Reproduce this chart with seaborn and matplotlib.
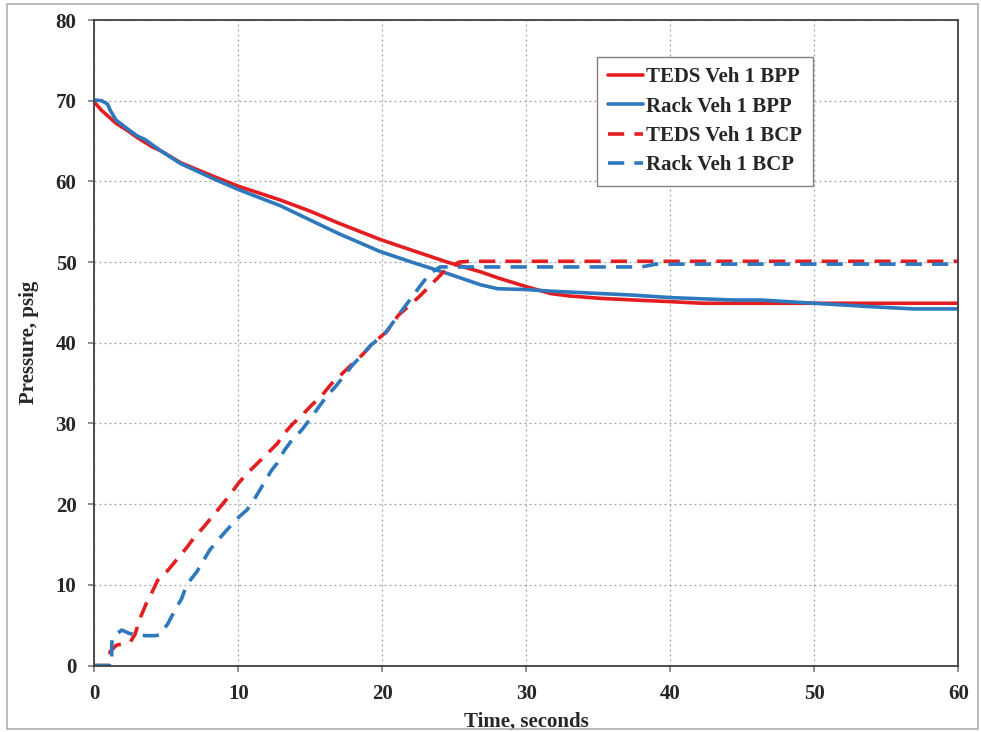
import matplotlib
matplotlib.use("Agg")
import matplotlib.pyplot as plt
import numpy as np
import pandas as pd
import seaborn as sns

# Brake pipe pressure (solid lines)
teds_bpp_t = [0, 0.5, 1, 1.5, 2.3, 3, 4, 4.6, 6, 8.3, 10, 12.9, 15, 17, 19.85, 22,
              24.5, 26.8, 28.1, 30.1, 31.7, 33, 35.2, 37.5, 40, 42.2, 50, 60]
teds_bpp_p = [69.8, 68.8, 68.0, 67.2, 66.3, 65.4, 64.3, 63.8, 62.3, 60.6, 59.4, 57.7, 56.3, 54.8,
              52.8, 51.5, 50.0, 48.8, 48.0, 46.9, 46.1, 45.8, 45.5, 45.3, 45.1, 44.9, 44.9, 44.9]

rack_bpp_t = [0, 0.5, 0.9, 1.1, 1.5, 2.3, 3, 3.5, 4.6, 6, 8.3, 10, 11, 12.9, 15, 17, 19.85,
              22.2, 24.5, 26.8, 28, 30, 31.7, 35.2, 37.5, 40, 44.4, 46.3, 50, 53.7, 56.9, 60]
rack_bpp_p = [70.1, 70.0, 69.6, 68.8, 67.6, 66.5, 65.6, 65.2, 63.8, 62.2, 60.3, 59.0, 58.3, 57.0,
              55.2, 53.5, 51.3, 49.9, 48.6, 47.2, 46.7, 46.6, 46.4, 46.1, 45.9, 45.6, 45.3, 45.3,
              44.9, 44.5, 44.2, 44.2]

# Brake cylinder pressure (dashed lines)
teds_bcp_t = [0, 1.05, 1.08, 1.5, 2.5, 2.8, 3.2, 3.6, 4.0, 4.4, 5.1, 5.7, 6.4, 6.9, 7.6, 8.15,
              8.85, 9.3, 10.0, 10.6, 12.7, 13.1, 13.8, 14.4, 15.1, 15.8, 16.5, 17.1, 17.8, 18.6,
              19.2, 20.3, 21.1, 21.8, 22.6, 24.2, 25.3, 26, 60]
teds_bcp_p = [0, 0, 1.7, 2.5, 2.95, 3.8, 6.0, 7.7, 9.1, 10.6, 11.8, 13.1, 14.6, 15.8, 17.2, 18.4,
              19.9, 20.9, 22.6, 23.8, 27.5, 28.6, 30.0, 31.0, 32.3, 33.5, 35.0, 36.0, 37.2, 38.5,
              39.7, 41.4, 43.4, 44.5, 45.8, 48.7, 50.0, 50.1, 50.1]

rack_bcp_t = [0, 1.2, 1.2, 1.3, 1.9, 2.4, 2.8, 3.6, 4.2, 4.55, 5.1, 5.6, 6.06, 6.4, 7.1, 7.6,
              8.0, 8.6, 9.3, 9.9, 10.6, 11.2, 11.7, 12.3, 12.7, 13.2, 13.7, 14.4, 15.0, 15.6,
              16.1, 16.7, 17.3, 17.9, 18.6, 19.2, 20.2, 21.1, 21.9, 22.6, 23.3, 24.0, 38, 39, 60]
rack_bcp_p = [0, 0, 2.75, 3.6, 4.4, 4.0, 3.8, 3.7, 3.7, 3.8, 5.2, 6.9, 8.3, 10.0, 11.6, 13.1,
              14.3, 15.6, 17.0, 18.2, 19.3, 20.9, 22.4, 24.2, 25.1, 26.7, 27.9, 29.2, 30.6, 32.1,
              33.3, 34.5, 35.8, 37.2, 38.5, 39.7, 41.2, 43.4, 45.3, 47.0, 48.6, 49.4, 49.4, 49.75,
              49.75]

red = "#E41E20"
blue = "#2E78BE"

sns.set_theme(style="white")
plt.rcParams["font.family"] = ["Liberation Serif", "DejaVu Serif"]
plt.rcParams["font.weight"] = "bold"

fig = plt.figure(figsize=(9.81, 7.32), dpi=100)
ax = fig.add_axes([0.0963, 0.0908, 0.8806, 0.8818])

series = [
    (teds_bpp_t, teds_bpp_p, red, "-", "TEDS Veh 1 BPP"),
    (rack_bpp_t, rack_bpp_p, blue, "-", "Rack Veh 1 BPP"),
    (teds_bcp_t, teds_bcp_p, red, (0, (4.5, 2.8)), "TEDS Veh 1 BCP"),
    (rack_bcp_t, rack_bcp_p, blue, (0, (4.5, 2.8)), "Rack Veh 1 BCP"),
]
for t, p, c, ls, lab in series:
    df = pd.DataFrame({"t": t, "p": p})
    sns.lineplot(data=df, x="t", y="p", ax=ax, color=c, linestyle=ls, linewidth=2.6,
                 estimator=None, sort=False, label=lab)

ax.set_xlim(0, 60)
ax.set_ylim(0, 80)
ax.set_xticks(np.arange(0, 61, 10))
ax.set_yticks(np.arange(0, 81, 10))
ax.grid(True, color="#A0A0A0", linestyle=(0, (1.5, 2.5)), linewidth=0.9)
for s in ax.spines.values():
    s.set_color("#404040")
    s.set_linewidth(1.3)
ax.tick_params(axis="both", labelsize=15, length=4, color="#808080", pad=9, direction="out",
               bottom=True, left=True)
for lbl in ax.get_xticklabels() + ax.get_yticklabels():
    lbl.set_fontweight("bold")

ax.set_xlabel("Time, seconds", fontsize=15, fontweight="bold", labelpad=6)
ax.set_ylabel("Pressure, psig", fontsize=15, fontweight="bold", labelpad=12)

leg = ax.legend(loc="upper left", bbox_to_anchor=(0.582, 0.943), borderaxespad=0,
                fancybox=False, framealpha=1, edgecolor="#808080", fontsize=15,
                handlelength=1.7, handletextpad=0.15, labelspacing=0.45, borderpad=0.5)
leg.get_frame().set_linewidth(1.0)
for txt in leg.get_texts():
    txt.set_fontweight("bold")

# thin grey frame around the whole picture
fig.patches.append(plt.Rectangle((0.007, 0.004), 0.99, 0.99, transform=fig.transFigure,
                                 fill=False, edgecolor="#B0B0B0", linewidth=1.2))

fig.savefig("out.png", dpi=100)
